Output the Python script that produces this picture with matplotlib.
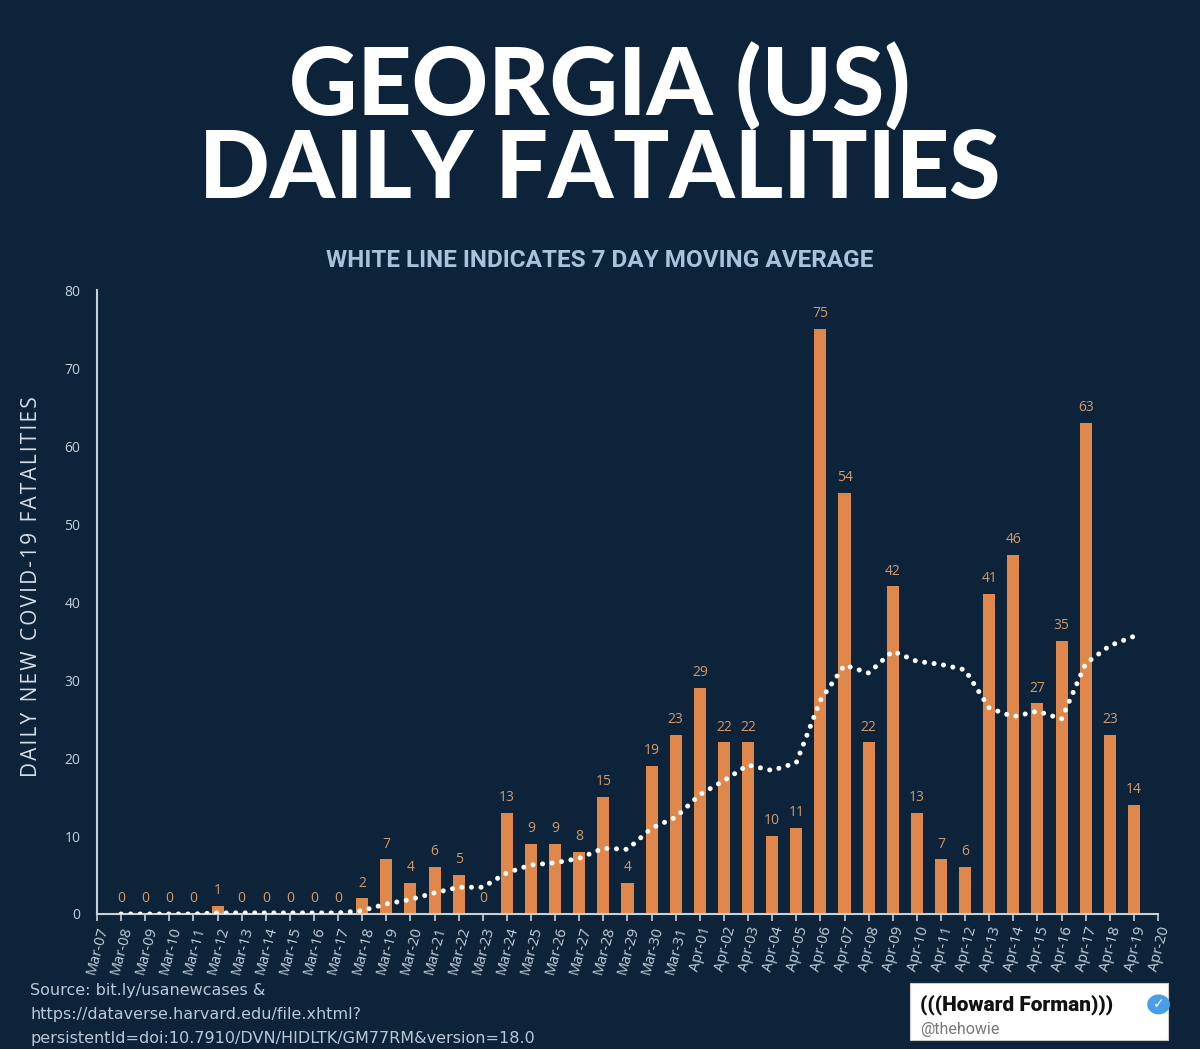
import numpy as np
import matplotlib
matplotlib.use("Agg")
import matplotlib.pyplot as plt
from matplotlib.patches import Circle, Rectangle

# ---- data ----
tick_labels = ['Mar-07', 'Mar-08', 'Mar-09', 'Mar-10', 'Mar-11', 'Mar-12', 'Mar-13',
               'Mar-14', 'Mar-15', 'Mar-16', 'Mar-17', 'Mar-18', 'Mar-19', 'Mar-20',
               'Mar-21', 'Mar-22', 'Mar-23', 'Mar-24', 'Mar-25', 'Mar-26', 'Mar-27',
               'Mar-28', 'Mar-29', 'Mar-30', 'Mar-31', 'Apr-01', 'Apr-02', 'Apr-03',
               'Apr-04', 'Apr-05', 'Apr-06', 'Apr-07', 'Apr-08', 'Apr-09', 'Apr-10',
               'Apr-11', 'Apr-12', 'Apr-13', 'Apr-14', 'Apr-15', 'Apr-16', 'Apr-17',
               'Apr-18', 'Apr-19', 'Apr-20']

# daily deaths, Mar-08 .. Apr-19
deaths = [0, 0, 0, 0, 1, 0, 0, 0, 0, 0, 2, 7, 4, 6, 5, 0, 13, 9, 9, 8, 15, 4,
          19, 23, 29, 22, 22, 10, 11, 75, 54, 22, 42, 13, 7, 6, 41, 46, 27, 35,
          63, 23, 14]

# 7 day moving average (white dotted line), Mar-08 .. Apr-19
moving_avg = [0, 0, 0, 0, 0.14, 0.14, 0.14, 0.14, 0.14, 0.14, 0.43, 1.29, 1.86,
              2.71, 3.43, 3.43, 5.29, 6.29, 6.57, 7.14, 8.43, 8.29, 11.0, 12.4,
              15.3, 17.1, 19.1, 18.4, 19.4, 27.4, 31.9, 30.9, 33.7, 32.4, 32.0,
              31.3, 26.4, 25.3, 26.0, 25.0, 32.1, 34.4, 35.6]

BG = '#0c2339'
BAR = '#e0874b'
LABEL = '#d39a6c'
AXIS = '#c9d0d8'
TXT = '#c3d0dd'

fig = plt.figure(figsize=(12, 10.49), dpi=100, facecolor=BG)

# titles
title_font = ['Lato', 'DejaVu Sans']
fig.text(0.5, 0.918, 'GEORGIA (US)', ha='center', va='center', color='white',
         fontsize=68, fontweight='black', family=title_font)
fig.text(0.5, 0.837, 'DAILY FATALITIES', ha='center', va='center', color='white',
         fontsize=67, fontweight='black', family=title_font)
fig.text(0.5, 0.752, 'WHITE LINE INDICATES 7 DAY MOVING AVERAGE', ha='center',
         va='center', color='#a8c3db', fontsize=17.5, fontweight='bold',
         family=['Roboto', 'DejaVu Sans'])

ax = fig.add_axes([0.0808, 0.1287, 0.8842, 0.5948])
ax.set_facecolor(BG)

x = np.arange(1, len(deaths) + 1)
ax.bar(x, deaths, width=0.5, color=BAR, zorder=2)
for xi, v in zip(x, deaths):
    ax.text(xi, v + 1.0, str(v), ha='center', va='bottom', color=LABEL,
            fontsize=10, family='Open Sans')

# 7 day moving average as round white dots
ax.plot(x, moving_avg, color='white', linewidth=3.6, linestyle=(0, (0.01, 1.9)),
        dash_capstyle='round', solid_capstyle='round', zorder=3)

ax.set_xlim(0, 44)
ax.set_ylim(0, 80)
ax.set_xticks(np.arange(len(tick_labels)))
ax.set_xticklabels(tick_labels, rotation=75, ha='right', rotation_mode='anchor',
                   fontsize=10.5, color=TXT, family='Open Sans')
ax.set_yticks(range(0, 81, 10))
ax.tick_params(axis='y', length=0, labelsize=10, labelcolor=TXT, pad=12)
ax.tick_params(axis='x', length=5, width=1.2, color=AXIS, pad=3)
for lab in ax.get_yticklabels():
    lab.set_family('Open Sans')

for side in ('top', 'right'):
    ax.spines[side].set_visible(False)
for side in ('left', 'bottom'):
    ax.spines[side].set_color(AXIS)
    ax.spines[side].set_linewidth(1.5)

# letter-spaced y label
ylab = 'DAILY NEW COVID-19 FATALITIES'
spaced = '\u2002'.join('\u200a'.join(word) for word in ylab.split(' '))
ax.set_ylabel(spaced, color='#d5dde6', fontsize=15, family='Open Sans')
ax.yaxis.set_label_coords(-0.052, 0.524)

# source note
src = ('Source: bit.ly/usanewcases &\n'
       'https://dataverse.harvard.edu/file.xhtml?\n'
       'persistentId=doi:10.7910/DVN/HIDLTK/GM77RM&version=18.0')
fig.text(0.025, 0.063, src, ha='left', va='top', color='#b9c8d8', fontsize=11.5,
         family='DejaVu Sans', linespacing=1.75)

# twitter badge
fig.patches.append(Rectangle((0.758, 0.009), 0.215, 0.054, transform=fig.transFigure,
                             facecolor='white', edgecolor='#cccccc', linewidth=0.8))
fig.text(0.767, 0.042, '(((Howard Forman)))', ha='left', va='center', color='#111111',
         fontsize=15, fontweight='heavy', family='Roboto')
fig.text(0.767, 0.019, '@thehowie', ha='left', va='center', color='#777777',
         fontsize=11.5, family='Roboto')
fig.patches.append(Circle((0.9655, 0.0425), 0.0095, transform=fig.transFigure,
                          facecolor='#4a9ee8', edgecolor='none'))
fig.text(0.9655, 0.0425, '\u2713', ha='center', va='center', color='white',
         fontsize=10, fontweight='bold', family='DejaVu Sans')

fig.savefig('out.png', dpi=100, facecolor=BG)
